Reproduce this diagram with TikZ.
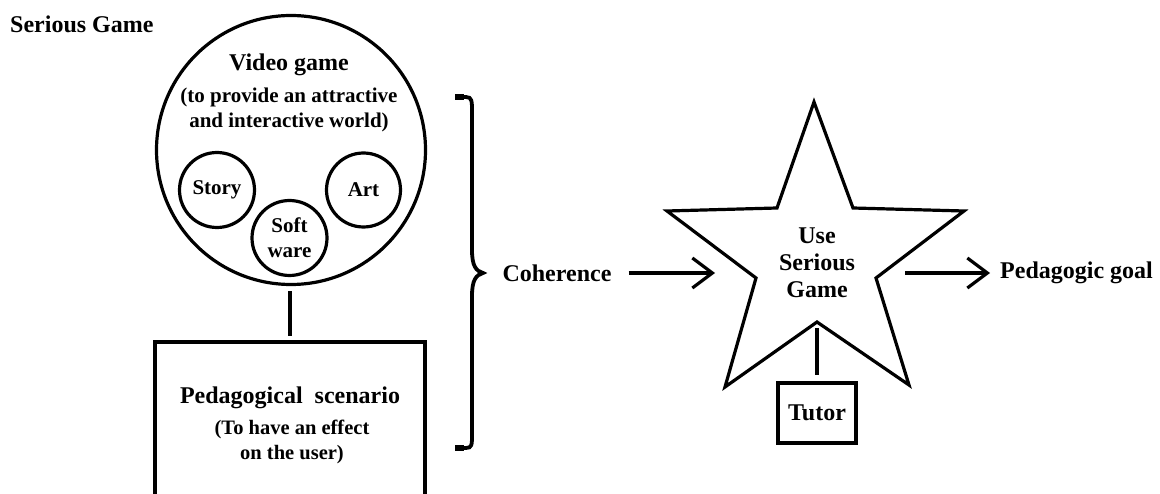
\documentclass[tikz,border=0pt]{standalone}
\usepackage{fontspec}
\setmainfont{Liberation Serif}
\usetikzlibrary{arrows.meta}
\begin{document}
\begin{tikzpicture}[x=1pt,y=-1pt,
  txt/.style={font=\fontsize{24}{27}\selectfont\bfseries, align=center, inner sep=0pt},
  small/.style={font=\fontsize{21}{25}\selectfont\bfseries, align=center, inner sep=0pt},
  ring/.style={draw, circle, line width=3.2pt, inner sep=0pt},
  boxx/.style={draw, rectangle, line width=3.2pt, inner sep=0pt},
  arr/.style={line width=3.2pt, -{Straight Barb[length=20pt,width=30pt,line width=3.2pt]}},
  ln/.style={line width=3.2pt},
  brace/.style={line width=3.8pt, line cap=butt}]
\useasboundingbox (0,0) rectangle (1160,494);
% title
\node[txt, anchor=west] (title) at (10,24) {Serious Game};
% video game circle
\node[ring, minimum size=269pt] (vg) at (291,150) {};
\node[txt] (vgt) at (289,65) {Video game};
\node[small] (vgs) at (289,110) {(to provide an attractive\\and interactive world)};
\node[ring, minimum size=75pt] (story) at (217,190) {};
\node[small] at (story) {Story};
\node[ring, minimum size=74pt] (art) at (363.5,190) {};
\node[small] at (art) {Art};
\node[ring, minimum size=75pt] (soft) at (289.5,238) {};
\node[small] at (soft) {Soft\\ware};
% pedagogical scenario box
\node[boxx, minimum width=270pt, minimum height=180pt] (box) at (290,432) {};
\node[txt] (boxt) at (290,398) {Pedagogical\ \ scenario};
\node[font=\fontsize{20.5}{25}\selectfont\bfseries, align=center, inner sep=0pt] (boxs) at (292,442) {(To have an effect\\on the user)};
\draw[ln, shorten <=5pt, shorten >=4pt] (box.north |- vg.south) -- (box.north);
% brace
\draw[brace] (458,97) -- (466,97) .. controls (472,97) and (472,101) .. (472,112)
  -- (472,250) .. controls (472,266) and (476,271) .. (483,273)
  .. controls (476,275) and (472,280) .. (472,296)
  -- (472,434) .. controls (472,445) and (472,448) .. (466,448) -- (458,448);
\draw[line width=6.5pt] (455,97) -- (464,97);
\draw[line width=6.5pt] (455,448) -- (464,448);
% star
\coordinate (sT) at (814,102);
\coordinate (sIUR) at (853,208);
\coordinate (sR) at (964,211);
\coordinate (sIR) at (876,278);
\coordinate (sBR) at (909,385);
\coordinate (sIB) at (817,322);
\coordinate (sBL) at (725,387);
\coordinate (sIL) at (756,278);
\coordinate (sL) at (667,211);
\coordinate (sIUL) at (777,208);
\draw[ln, line join=miter] (sT) -- (sIUR) -- (sR) -- (sIR) -- (sBR) -- (sIB) -- (sBL) -- (sIL) -- (sL) -- (sIUL) -- cycle;
\node[txt] (use) at (817,263) {Use\\Serious\\Game};
% tutor
\node[boxx, minimum width=78pt, minimum height=60pt] (tutor) at (817,413) {};
\node[txt] at (tutor) {Tutor};
\draw[ln, shorten <=6pt, shorten >=6pt] (sIB) -- (tutor.north);
% coherence and goal
\node[txt] (coh) at (557,273) {Coherence};
\coordinate (inArr) at (756,273);
\draw[arr, shorten <=17pt, shorten >=41pt] (coh.east) -- (inArr);
\node[txt, anchor=west] (goal) at (1000,273) {Pedagogic goal};
\coordinate (outArr) at (876,273);
\draw[arr, shorten <=29pt, shorten >=10pt] (outArr) -- (goal.west);
\end{tikzpicture}
\end{document}
